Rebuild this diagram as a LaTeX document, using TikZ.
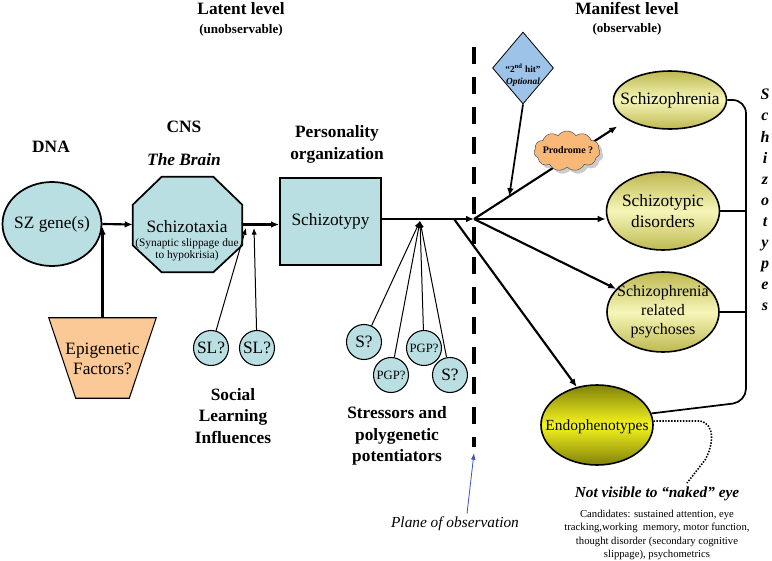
\documentclass[tikz,border=0pt]{standalone}
\usepackage{fontspec}
\setmainfont{Liberation Serif}
\usetikzlibrary{shapes.geometric,shapes.symbols,shadows,calc,arrows.meta}
\newdimen\pxu \pxu=0.75pt
\newcommand\fsz[2]{\fontsize{#1}{#2}\selectfont}
\definecolor{sblue}{RGB}{186,223,227}
\definecolor{epic}{RGB}{251,201,150}
\definecolor{diac}{RGB}{157,196,232}
\definecolor{cloudc}{RGB}{249,184,120}
\definecolor{yin}{RGB}{246,246,185}
\definecolor{yout}{RGB}{190,185,80}
\definecolor{ein}{RGB}{245,245,30}
\definecolor{eout}{RGB}{130,130,10}
\definecolor{planec}{RGB}{60,80,190}
\begin{document}
\begin{tikzpicture}[x=0.75pt,y=-0.75pt,
  hdr/.style={font=\bfseries\fsz{13}{16}, align=center, inner sep=0},
  subhdr/.style={font=\bfseries\fsz{9.8}{12}, align=center, inner sep=0},
  txt/.style={align=center, inner sep=0},
  blueshape/.style={draw, line width=1.3pt, fill=sblue},
  smallcirc/.style={circle, draw, line width=0.8pt, fill=sblue, minimum size=35\pxu, inner sep=0},
  yell/.style={ellipse, draw, line width=1.2pt, top color=yout, bottom color=yout, middle color=yin, inner sep=0},
  mainarr/.style={line width=1.6pt, -{Latex[length=6pt,width=5pt]}},
  thinarr/.style={line width=0.75pt, -{Latex[length=5pt,width=4pt]}},
  brk/.style={line width=1.3pt, rounded corners=10pt}]
\useasboundingbox (0,0) rectangle (772,561);

% headers
\node[hdr] (latent) at (241,9) {Latent level};
\node[subhdr] (unobs) at (241,30) {(unobservable)};
\node[hdr] (manifest) at (627,8) {Manifest level};
\node[subhdr] (obs) at (627,29) {(observable)};
\node[hdr] (dna) at (51,147) {DNA};
\node[hdr] (cns) at (184,127) {CNS};
\node[hdr, font=\bfseries\itshape\fsz{13}{16}] (brain) at (184,160) {The Brain};
\node[hdr, font=\bfseries\fsz{13}{16.5}] (pers) at (337,144) {Personality\\organization};

% dashed plane
\coordinate (dtop) at (474,47);
\coordinate (dbot) at (474,447);
\draw[line width=2.3pt, dash pattern=on 12.5pt off 10pt] (dtop) -- (dbot);

% DNA
\node[ellipse, blueshape, minimum width=99\pxu, minimum height=84\pxu, inner sep=0] (sz) at (52,224) {};
\node[txt, font=\fsz{13}{15}] (sztxt) at (sz) {SZ gene(s)};

% octagon
\node[minimum width=109\pxu, minimum height=95\pxu, inner sep=0] (oct) at (187.5,224.5) {};
\draw[blueshape] ($(oct.north west)+(29,0)$) -- ($(oct.north east)+(-29,0)$) -- ($(oct.north east)+(0,28)$) -- ($(oct.south east)+(0,-27)$) -- ($(oct.south east)+(-29,0)$) -- ($(oct.south west)+(29,0)$) -- ($(oct.south west)+(0,-27)$) -- ($(oct.north west)+(0,28)$) -- cycle;
\node[txt, font=\fsz{13}{15}] (otxt) at (187,227) {Schizotaxia};
\node[txt, font=\fsz{8.5}{9}] (osub) at (187,250) {(Synaptic slippage due\\to hypokrisia)};

% epigenetic
\node[minimum width=107\pxu, minimum height=80\pxu, inner sep=0] (epi) at (102.5,358) {};
\draw[line width=0.8pt, fill=epic] (epi.north west) -- (epi.north east) -- ($(epi.south east)+(-27,0)$) -- ($(epi.south west)+(27,0)$) -- cycle;
\node[txt, font=\fsz{13}{14.5}] (epitxt) at (102.5,359) {Epigenetic\\Factors?};

% schizotypy
\node[rectangle, blueshape, minimum width=101\pxu, minimum height=87\pxu, font=\fsz{13}{15}] (sq) at (330.5,221.5) {Schizotypy};

% SL circles
\node[smallcirc, font=\fsz{13}{15}] (sl1) at (211,348) {SL?};
\node[smallcirc, font=\fsz{13}{15}] (sl2) at (257,348) {SL?};
\node[hdr] (social) at (233,416) {Social\\Learning\\Influences};

% stressors
\node[smallcirc, font=\fsz{13}{15}] (s1) at (364,342) {S?};
\node[smallcirc, font=\fsz{9.5}{11}] (pgp1) at (391,375) {PGP?};
\node[smallcirc, font=\fsz{9.5}{11}] (pgp2) at (424,348) {PGP?};
\node[smallcirc, font=\fsz{13}{15}] (s2) at (450,375) {S?};
\node[hdr] (stress) at (397,436) {Stressors and\\polygenetic\\potentiators};

% right ellipses
\node[yell, minimum width=113\pxu, minimum height=58\pxu] (schz) at (670,100) {};
\node[txt, font=\fsz{13}{15}] (schztxt) at (schz) {Schizophrenia};
\node[yell, minimum width=113\pxu, minimum height=78\pxu] (td) at (663,211) {};
\node[txt, font=\fsz{13}{15.8}] (tdtxt) at (td) {Schizotypic\\disorders};
\node[yell, minimum width=112\pxu, minimum height=80\pxu] (psy) at (663,312) {};
\node[txt, font=\fsz{12}{14.2}] (psytxt) at (psy) {Schizophrenia\\related\\psychoses};
\node[yell, top color=eout, bottom color=eout, middle color=ein, minimum width=112\pxu, minimum height=80\pxu] (endo) at (597,425) {};
\node[txt, font=\fsz{11.6}{14}] (endotxt) at (597,427) {Endophenotypes};

\node[txt, font=\bfseries\itshape\fsz{12}{15.8}] (stypes) at (765,200) {S\\c\\h\\i\\z\\o\\t\\y\\p\\e\\s};

% connectors left part
\draw[mainarr] (sz.east) -- (oct.west);
\draw[mainarr, shorten >=2pt] (epi.north) -- (epi.north |- sz.east);
\draw[mainarr] (oct.east) -- (oct.east -| sq.west);
\coordinate (sla) at (246,228);
\coordinate (slb) at (254,228);
\draw[thinarr] (sl1) -- (sla);
\draw[thinarr] (sl2) -- (slb);

\coordinate (junc) at (474,219);
\coordinate (conv) at (420,221);
\coordinate (brpt) at (454,219);
\draw[mainarr] (sq.east |- junc) -- (junc);
\draw[thinarr] (s1) -- (conv);
\draw[thinarr] (pgp1) -- (conv);
\draw[thinarr] (pgp2) -- (conv);
\draw[thinarr] (s2) -- (conv);

% branches
\draw[mainarr] (brpt) -- (endo.118);
\draw[mainarr] (junc) -- (junc -| td.west);
\draw[mainarr] (junc) -- (psy);
\draw[mainarr, shorten >=9pt] (junc) -- (schz.205);
\coordinate (hit) at ($(junc)!0.23!(schz.205)$);

% prodrome cloud
\node[cloud, cloud puffs=11, cloud puff arc=110, aspect=1.6, draw=gray!70!black, line width=0.4pt, fill=cloudc, drop shadow={shadow xshift=2.5pt, shadow yshift=-2.5pt, fill=gray!80}, minimum width=66\pxu, minimum height=40\pxu, inner sep=0] (prod) at (567,151) {};
\node[font=\bfseries\fsz{7.5}{9}, inner sep=0] (prodtxt) at (568,150) {Prodrome ?};

% diamond
\node[diamond, draw, line width=0.6pt, fill=diac, minimum width=61\pxu, minimum height=72\pxu, inner sep=0] (dia) at (523,68) {};
\node[txt, font=\bfseries\fsz{7}{9}] (diatxt) at (523,75) {“2\textsuperscript{nd} hit”\\{\itshape Optional}};
\draw[mainarr, line width=1.3pt] (dia.south) -- (hit);

% bracket
\coordinate (brt) at (746,100);
\coordinate (brb) at (746,402);
\draw[brk] (schz.east) -- (brt) -- (brb) -- (endo.12);
\draw[line width=1.3pt] (td.east) -- (td.east -| brt);
\draw[line width=1.3pt] (psy.east) -- (psy.east -| brt);

% not visible
\node[font=\bfseries\itshape\fsz{11.5}{13}, inner sep=0] (notvis) at (657,494) {Not visible to “naked” eye};
\coordinate (dotend) at (687,483);
\draw[line width=1.2pt, dash pattern=on 1.1pt off 1.1pt] (endo.4) -- (700,421) .. controls (716,424) and (713,446) .. (705,460) -- (dotend);
\node[txt, font=\fsz{8}{10}] (cand) at (657,535) {Candidates: sustained attention, eye\\tracking,working\ \ memory, motor function,\\thought disorder (secondary cognitive\\slippage), psychometrics};

% plane of observation
\node[font=\itshape\fsz{11.5}{13}, inner sep=0] (plane) at (455,524) {Plane of observation};
\draw[planec, line width=0.6pt, -{Latex[length=5pt,width=3.5pt]}] ($(plane.north)+(12,-3)$) -- ($(dbot)+(0,6)$);
\end{tikzpicture}
\end{document}
